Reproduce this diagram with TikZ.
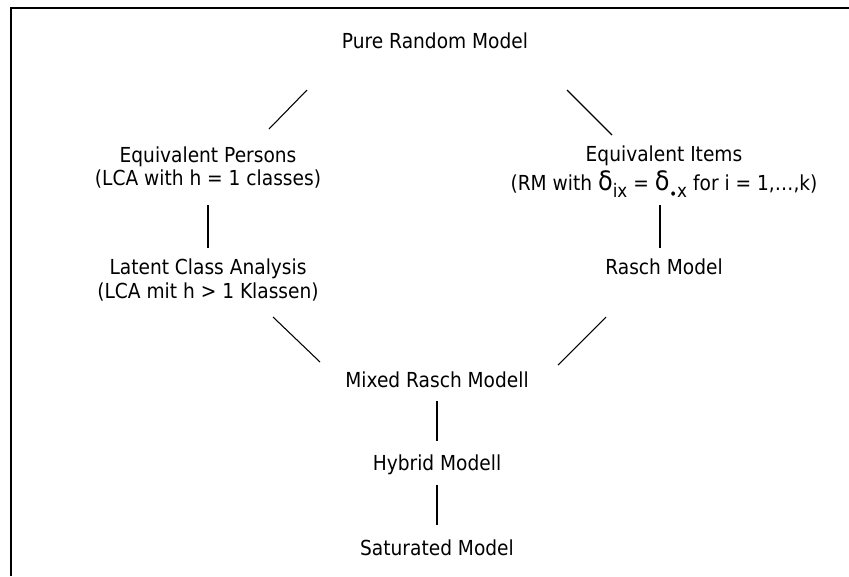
\documentclass[tikz,border=0pt]{standalone}
\usepackage{fontspec}
\setmainfont{DejaVu Sans}[FakeStretch=0.9]
\newcommand\dlt{{\fontsize{20}{20}\selectfont δ}}
\newcommand\sbs[1]{\raisebox{-5.25pt}{\fontsize{14}{14}\selectfont #1}}
\newcommand\bul{\raisebox{-1.5pt}{\fontsize{11}{11}\selectfont •}}
\begin{document}
\begin{tikzpicture}[x=0.75pt,y=-0.75pt,
  lbl/.style={anchor=base,inner sep=0pt,font=\fontsize{15.5}{18}\selectfont},
  link/.style={line width=0.8pt},
  frame/.style={line width=1.5pt}]
\useasboundingbox (0,0) rectangle (849,576);
\coordinate (fbl) at (10.5,576);
\coordinate (ftl) at (10.5,8);
\coordinate (ftr) at (849,8);
\draw[frame] (fbl) -- (ftl) -- (ftr);

\node[lbl] (prm) at (435,48) {Pure Random Model};
\node[lbl] (ep1) at (208,162) {Equivalent Persons};
\node[lbl] (ep2) at (208,185) {(LCA with h = 1 classes)};
\node[lbl] (ei1) at (664,161) {Equivalent Items};
\node[lbl] (ei2) at (664,190) {(RM with \dlt\sbs{ix} = \dlt\sbs{\bul x} for i = 1,…,k)};
\node[lbl] (lca1) at (208,274) {Latent Class Analysis};
\node[lbl] (lca2) at (208,298) {(LCA mit h > 1 Klassen)};
\node[lbl] (rm) at (664,274) {Rasch Model};
\node[lbl] (mrm) at (437,387) {Mixed Rasch Modell};
\node[lbl] (hm) at (437,470) {Hybrid Modell};
\node[lbl] (sm) at (437,555) {Saturated Model};

\coordinate (c1a) at (307,90);  \coordinate (c1b) at (269,129);
\coordinate (c2a) at (567,90);  \coordinate (c2b) at (612,135);
\coordinate (c3a) at (208,205); \coordinate (c3b) at (208,248);
\coordinate (c4a) at (660,205); \coordinate (c4b) at (660,248);
\coordinate (c5a) at (273,317); \coordinate (c5b) at (320,362);
\coordinate (c6a) at (606,317); \coordinate (c6b) at (558,365);
\coordinate (c7a) at (437,401); \coordinate (c7b) at (437,441);
\coordinate (c8a) at (437,485); \coordinate (c8b) at (437,525);

\draw[link] (c1a) -- (c1b);
\draw[link] (c2a) -- (c2b);
\draw[link] (c3a) -- (c3b);
\draw[link] (c4a) -- (c4b);
\draw[link] (c5a) -- (c5b);
\draw[link] (c6a) -- (c6b);
\draw[link] (c7a) -- (c7b);
\draw[link] (c8a) -- (c8b);
\end{tikzpicture}
\end{document}
